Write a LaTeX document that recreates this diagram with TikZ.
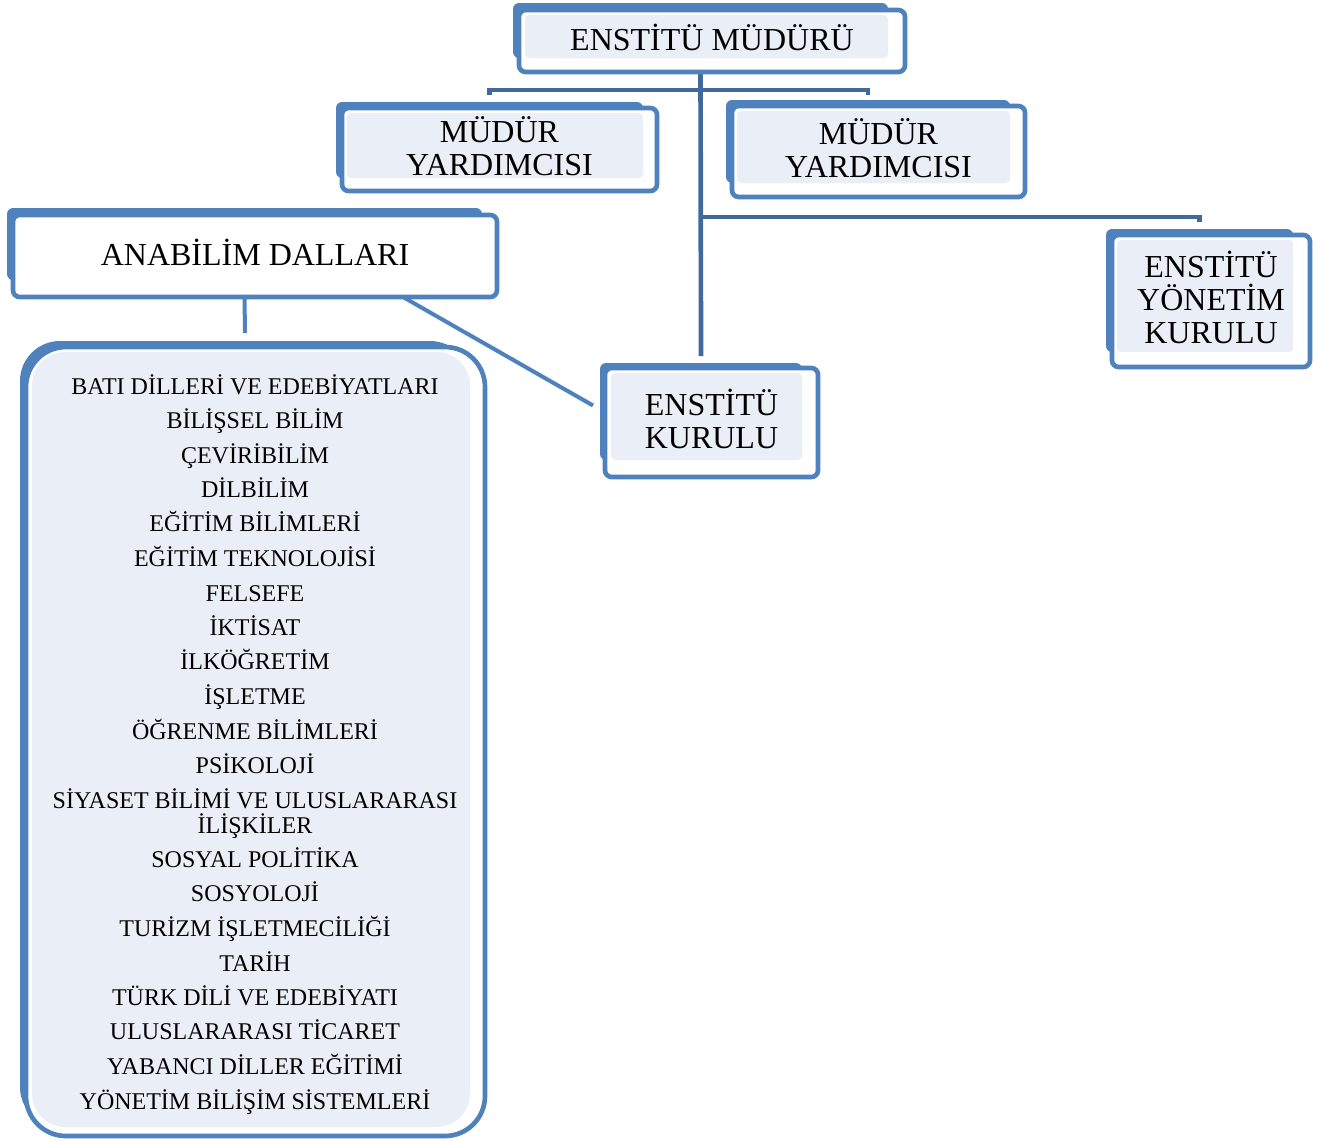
\documentclass[tikz,border=0pt]{standalone}
\usepackage{fontspec}
\setmainfont{Liberation Serif}
\usetikzlibrary{fit,backgrounds}
\definecolor{bb}{HTML}{4F81BD}
\definecolor{cl}{HTML}{41699D}
\definecolor{lf}{HTML}{EAEFF7}
\newcommand\obox[5]{%
  \node[backbox, fit={#2}] (#1B) {};
  \node[frontbox, fit={#3}] (#1F) {};
  \node[innerbox, fit={#4}] (#1I) {};
  \node[btxt] (#1) at (#1F.center) {#5};}
\begin{document}
\begin{tikzpicture}[x=0.75pt,y=-0.75pt,
  backbox/.style={fill=bb, rounded corners=4.5pt, inner sep=0pt, outer sep=0pt},
  frontbox/.style={draw=bb, fill=white, line width=3.5pt, rounded corners=5pt, inner sep=0pt, outer sep=0pt},
  innerbox/.style={fill=lf, rounded corners=3pt, inner sep=0pt, outer sep=0pt},
  btxt/.style={inner sep=0pt, align=center, yshift=2.5pt, font=\fontsize{24}{24.75}\selectfont},
  ltxt/.style={inner sep=0pt, anchor=base, font=\fontsize{18}{18.75}\selectfont},
  conn/.style={draw=cl, line width=3.5pt},
  conn2/.style={draw=bb, line width=3pt}]
\useasboundingbox (0,0) rectangle (1317,1140);

\obox{mud}{(513,3)(888,58)}{(519,10)(905,72)}{(525,15)(888,58)}{ENSTİTÜ MÜDÜRÜ}
\obox{myl}{(336,102)(643,178)}{(342,108)(657,191)}{(347,113)(643,178)}{MÜDÜR\\YARDIMCISI}
\obox{myr}{(726,100)(1010,183)}{(732,106)(1025,197)}{(737,111)(1010,183)}{MÜDÜR\\YARDIMCISI}
\obox{kur}{(600,363)(802,460)}{(605,368)(818,477)}{(611,373)(802,460)}{ENSTİTÜ\\KURULU}
\obox{ey}{(1106,229)(1293,352)}{(1112,235)(1310,367)}{(1117,240)(1293,352)}{ENSTİTÜ\\YÖNETİM\\KURULU}

% ANABILIM DALLARI
\node[backbox, fit={(7,208)(482,280)}] (anaB) {};
\node[frontbox, fit={(13,215)(497,297)}] (anaF) {};
\node[btxt] (ana) at (anaF.center) {ANABİLİM DALLARI};

% list box
\node[backbox, rounded corners=30pt, fit={(20,341)(470,1127)}] (listB) {};
\node[frontbox, rounded corners=30pt, fit={(26,347)(485,1136)}] (listF) {};
\node[innerbox, rounded corners=25pt, fit={(32,352)(470,1127)}] (listI) {};

\foreach \t/\y [count=\i] in {
  BATI DİLLERİ VE EDEBİYATLARI/394,
  BİLİŞSEL BİLİM/428,
  ÇEVİRİBİLİM/463,
  DİLBİLİM/497,
  EĞİTİM BİLİMLERİ/531,
  EĞİTİM TEKNOLOJİSİ/566,
  FELSEFE/601,
  İKTİSAT/635,
  İLKÖĞRETİM/669,
  İŞLETME/704,
  ÖĞRENME BİLİMLERİ/739,
  PSİKOLOJİ/773,
  SİYASET BİLİMİ VE ULUSLARARASI/808,
  İLİŞKİLER/833,
  SOSYAL POLİTİKA/867,
  SOSYOLOJİ/901,
  TURİZM İŞLETMECİLİĞİ/936,
  TARİH/971,
  TÜRK DİLİ VE EDEBİYATI/1005,
  ULUSLARARASI TİCARET/1039,
  YABANCI DİLLER EĞİTİMİ/1074,
  YÖNETİM BİLİŞİM SİSTEMLERİ/1109}
  \node[ltxt] (l\i) at (255,\y) {\t};

% connectors
\begin{pgfonlayer}{background}
\draw[conn] (mudB.south) -- ([yshift=5.25pt]kurB.north);
\draw[conn] ([yshift=5.25pt]mylB.north) -- ++(0,-5) -| ([yshift=3.75pt]myrB.north);
\draw[conn] (mudB.south |- 0,217) -| ([yshift=5.25pt]eyB.north);
\draw[conn2] (anaB.south |- anaF.south) -- ([yshift=6pt]listB.north);
\draw[conn2] ([xshift=111pt]anaF.south) -- ([xshift=-5.25pt,yshift=4.5pt]kurB.west);
\end{pgfonlayer}
\end{tikzpicture}
\end{document}
